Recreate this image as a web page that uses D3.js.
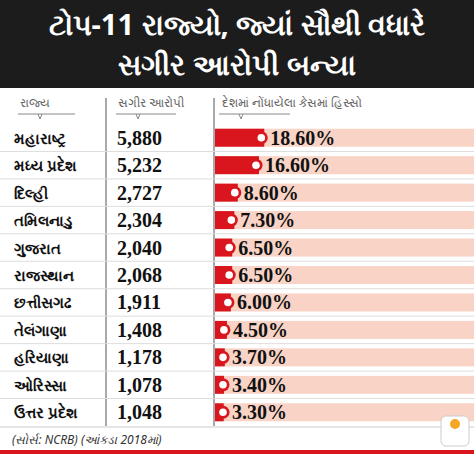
<!DOCTYPE html><html><head><meta charset="utf-8"><script src="https://cdn.jsdelivr.net/npm/d3@7"></script>
<style>body{margin:0;background:#fff}</style></head><body><svg id="c" width="474" height="454"></svg><script>
const states=["મહારાષ્ટ્ર","મધ્ય પ્રદેશ","દિલ્હી","તમિલનાડુ","ગુજરાત","રાજસ્થાન","છત્તીસગઢ","તેલંગાણા","હરિયાણા","ઓરિસ્સા","ઉત્તર પ્રદેશ"];
const accused=[5880,5232,2727,2304,2040,2068,1911,1408,1178,1078,1048];
const share=[18.6,16.6,8.6,7.3,6.5,6.5,6.0,4.5,3.7,3.4,3.3];
const headers=["રાજ્ય","સગીર આરોપી","દેશમાં નોંધાયેલા કેસમાં હિસ્સો"];
const title=["ટોપ-11 રાજ્યો, જ્યાં સૌથી વધારે","સગીર આરોપી બન્યા"];
const svg=d3.select("#c");
svg.append("rect").attr("width",474).attr("height",88).attr("fill","#1c1c1c");
svg.selectAll(".t").data(title).join("text").attr("x",237).attr("y",(d,i)=>35+i*40)
 .attr("text-anchor","middle").attr("fill","#fff").attr("font-size",29).attr("font-weight","bold").attr("font-family","Noto Sans, sans-serif").text(d=>d);
const y=d3.scaleBand().domain(d3.range(states.length)).range([124,426]);
const x=d3.scaleLinear().domain([0,20]).range([215,268]);
const hx=[20,118,222];
svg.selectAll(".h").data(headers).join("text").attr("x",(d,i)=>hx[i]).attr("y",107).attr("fill","#666").attr("font-size",12).attr("font-family","Noto Sans, sans-serif").text(d=>d);
[[18,75],[116,176],[219,290]].forEach(([a,b])=>{svg.append("line").attr("x1",a).attr("x2",b).attr("y1",114).attr("y2",114).attr("stroke","#888");
 svg.append("path").attr("d",`M${a+20},114 l2,5 l2,-5`).attr("fill","none").attr("stroke","#888");});
[106,214].forEach(v=>svg.append("line").attr("x1",v).attr("x2",v).attr("y1",98).attr("y2",426).attr("stroke","#555"));
const g=svg.selectAll(".r").data(states).join("g").attr("transform",(d,i)=>`translate(0,${y(i)})`);
const bh=y.bandwidth();
g.filter((d,i)=>i>0).append("line").attr("x1",0).attr("x2",474).attr("y1",0).attr("y2",0).attr("stroke","#ddd");
g.append("text").attr("x",14).attr("y",bh/2+6).attr("font-size",15).attr("font-weight","bold").attr("fill","#111").attr("font-family","Noto Sans, sans-serif").text(d=>d);
g.append("text").attr("x",117).attr("y",bh/2+7).attr("font-size",20).attr("font-weight","bold").attr("fill","#111").attr("font-family","Liberation Serif, serif").text((d,i)=>d3.format(",")(accused[i]));
g.append("rect").attr("x",215).attr("y",bh/2-9).attr("width",259).attr("height",18).attr("fill","#f8d3c6");
g.append("rect").attr("x",215).attr("y",bh/2-9).attr("width",(d,i)=>x(share[i])-215).attr("height",18).attr("fill","#d9161e");
g.append("circle").attr("cx",(d,i)=>Math.max(x(share[i])-3,223)).attr("cy",bh/2).attr("r",6.5).attr("fill","#d9161e");
g.append("circle").attr("cx",(d,i)=>Math.max(x(share[i])-3,223)).attr("cy",bh/2).attr("r",3.8).attr("fill","#fff");
g.append("text").attr("x",(d,i)=>Math.max(x(share[i])-3,223)+9).attr("y",bh/2+7).attr("font-size",20).attr("font-weight","bold").attr("fill","#111").attr("font-family","Liberation Serif, serif").text((d,i)=>share[i].toFixed(2)+"%");
svg.append("line").attr("x1",0).attr("x2",474).attr("y1",427).attr("y2",427).attr("stroke","#ccc");
svg.append("text").attr("x",12).attr("y",444).attr("font-size",12).attr("font-style","italic").attr("fill","#333").attr("font-family","Noto Sans, sans-serif").text("(સોર્સ: NCRB) (આંકડા 2018માં)");
svg.append("rect").attr("y",450).attr("width",474).attr("height",4).attr("fill","#d9161e");
svg.append("rect").attr("x",441).attr("y",416).attr("width",28).attr("height",30).attr("rx",5).attr("fill","#fff").attr("stroke","#ccc");
svg.append("circle").attr("cx",455).attr("cy",424).attr("r",5).attr("fill","#f5a623");
</script></body></html>
